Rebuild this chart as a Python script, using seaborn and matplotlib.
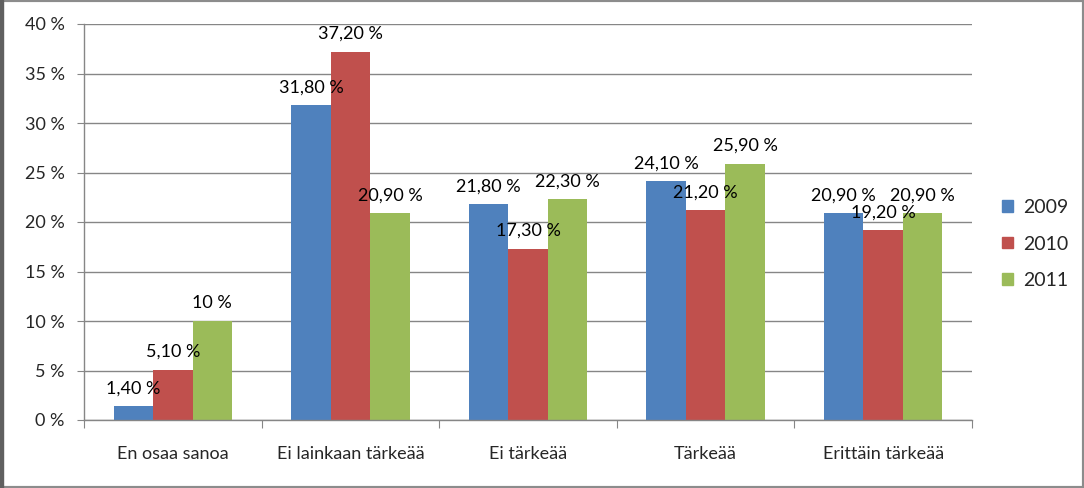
import matplotlib
matplotlib.use("Agg")
import matplotlib.pyplot as plt
import matplotlib.patches as mpatches
import seaborn as sns
import pandas as pd
import numpy as np

categories = ["En osaa sanoa", "Ei lainkaan tärkeää", "Ei tärkeää", "Tärkeää", "Erittäin tärkeää"]
years = ["2009", "2010", "2011"]
v2009 = [1.4, 31.8, 21.8, 24.1, 20.9]
v2010 = [5.1, 37.2, 17.3, 21.2, 19.2]
v2011 = [10.0, 20.9, 22.3, 25.9, 20.9]
lab2009 = ["1,40 %", "31,80 %", "21,80 %", "24,10 %", "20,90 %"]
lab2010 = ["5,10 %", "37,20 %", "17,30 %", "21,20 %", "19,20 %"]
lab2011 = ["10 %", "20,90 %", "22,30 %", "25,90 %", "20,90 %"]
yticks = [0, 5, 10, 15, 20, 25, 30, 35, 40]
ytick_labels = ["0 %", "5 %", "10 %", "15 %", "20 %", "25 %", "30 %", "35 %", "40 %"]
colors = ["#4F81BD", "#C0504D", "#9BBB59"]

rows = []
for vals, y in zip([v2009, v2010, v2011], years):
    for c, v in zip(categories, vals):
        rows.append({"cat": c, "year": y, "value": v})
df = pd.DataFrame(rows)

sns.set_style("white")
plt.rcParams["font.family"] = ["Lato", "DejaVu Sans"]
FS = 13

fig = plt.figure(figsize=(10.84, 4.88), dpi=100)
ax = fig.add_axes([84/1084, 1-420/488, (972-84)/1084, (420-24)/488])

sns.barplot(data=df, x="cat", y="value", hue="year", palette=colors,
            width=0.667, saturation=1, ax=ax, errorbar=None, legend=True,
            linewidth=0, edgecolor="none")

for cont, labs in zip(ax.containers, [lab2009, lab2010, lab2011]):
    for bar, lab in zip(cont, labs):
        ax.annotate(lab, (bar.get_x() + bar.get_width()/2, bar.get_height()),
                    xytext=(0, 7), textcoords="offset points",
                    ha="center", va="bottom", fontsize=FS, color="#000000")

ax.set_ylim(0, 40)
ax.set_xlim(-0.5, len(categories) - 0.5)
ax.set_yticks(yticks)
ax.set_yticklabels(ytick_labels, fontsize=FS)
ax.yaxis.grid(True, color="#868686", linewidth=1)
ax.set_axisbelow(True)
ax.tick_params(axis="y", length=5, color="#868686", pad=9, direction="out", left=True)

ax.set_xticks(np.arange(-0.5, len(categories), 1.0))
ax.set_xticklabels([""] * (len(categories) + 1))
ax.tick_params(axis="x", which="major", length=6, color="#868686", direction="out", bottom=True)
ax.set_xticks(np.arange(len(categories)), minor=True)
ax.set_xticklabels(categories, minor=True, fontsize=FS)
ax.tick_params(axis="x", which="minor", length=0, pad=19)

for s in ["top", "right"]:
    ax.spines[s].set_visible(False)
for s in ["left", "bottom"]:
    ax.spines[s].set_color("#868686")
    ax.spines[s].set_linewidth(1)

ax.set_xlabel("")
ax.set_ylabel("")

handles = [mpatches.Patch(color=c, label=y) for c, y in zip(colors, years)]
ax.legend(handles=handles, loc="center left", bbox_to_anchor=(1002/1084, 244/488),
          bbox_transform=fig.transFigure, frameon=False, fontsize=14,
          handlelength=0.55, handleheight=0.55, labelspacing=1.0, handletextpad=0.55,
          borderpad=0, borderaxespad=0)

fig.patches.append(mpatches.Rectangle((0, 0), 1, 1, transform=fig.transFigure,
                                      fill=False, edgecolor="#8c8c8c", linewidth=3))
fig.patches.append(mpatches.Rectangle((0, 0), 0.003, 1, transform=fig.transFigure,
                                      color="#606060"))

fig.savefig("out.png", dpi=100)
